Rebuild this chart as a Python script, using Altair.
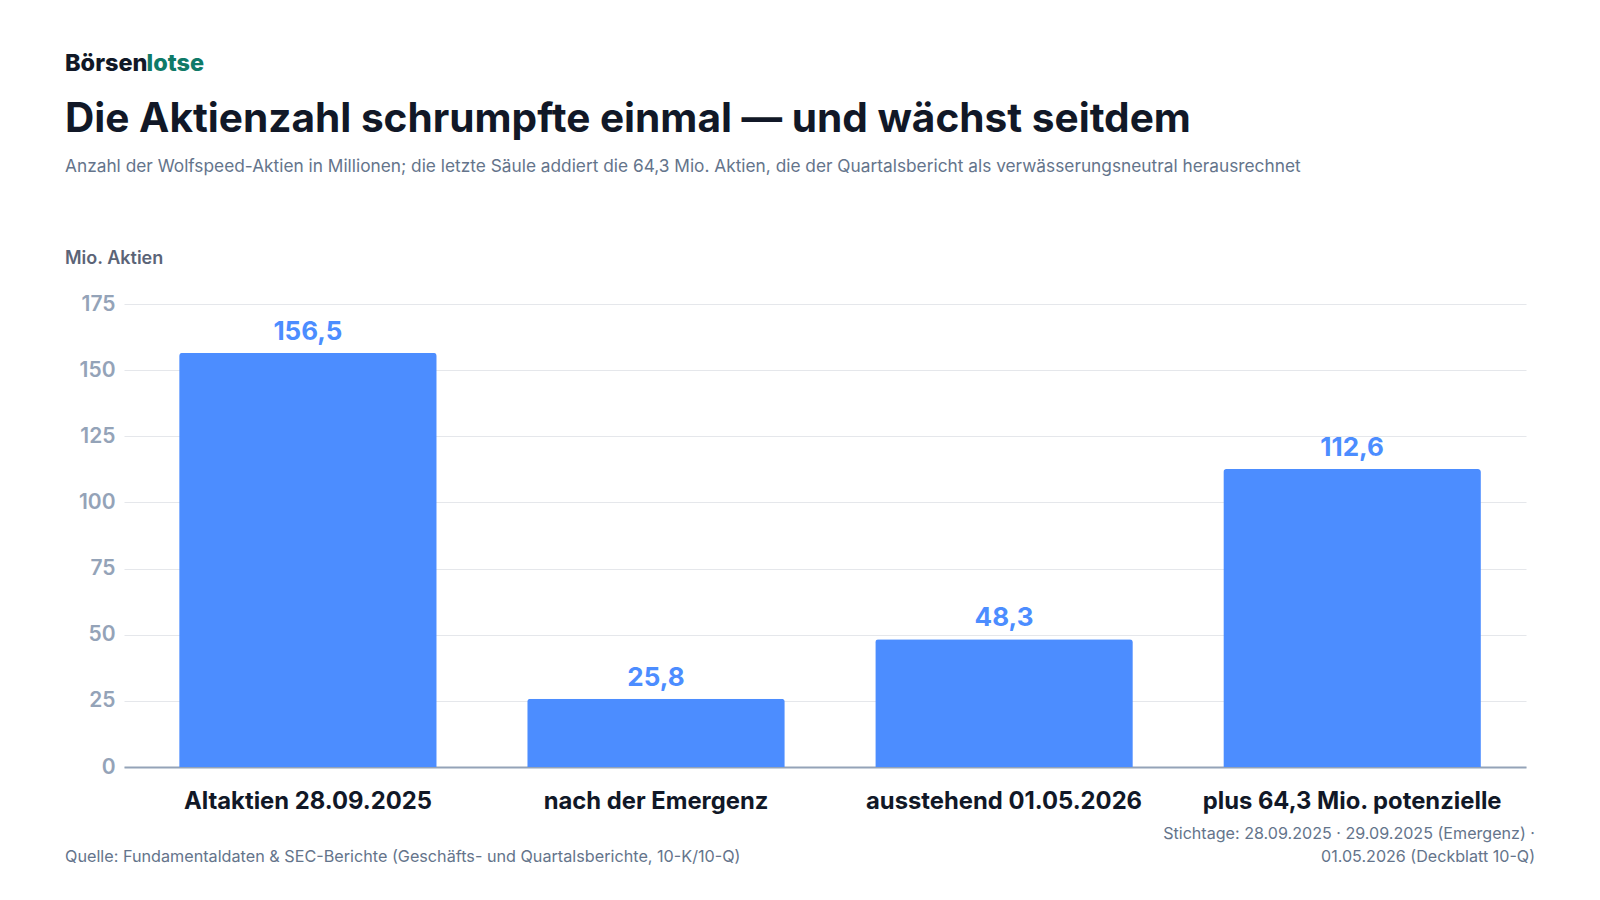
import altair as alt
import pandas as pd

categories = ["Altaktien 28.09.2025", "nach der Emergenz", "ausstehend 01.05.2026", "plus 64,3 Mio. potenzielle"]
values = [156.5, 25.8, 48.3, 112.6]
value_labels = ["156,5", "25,8", "48,3", "112,6"]
y_ticks = [0, 25, 50, 75, 100, 125, 150, 175]

logo_dark = "Börsen"
logo_green = "lotse"
title_text = "Die Aktienzahl schrumpfte einmal — und wächst seitdem"
subtitle_text = ("Anzahl der Wolfspeed-Aktien in Millionen; die letzte Säule addiert die 64,3 Mio. Aktien, "
                 "die der Quartalsbericht als verwässerungsneutral herausrechnet")
y_title = "Mio. Aktien"
source_text = "Quelle: Fundamentaldaten & SEC-Berichte (Geschäfts- und Quartalsberichte, 10-K/10-Q)"
note_line1 = "Stichtage: 28.09.2025 · 29.09.2025 (Emergenz) ·"
note_line2 = "01.05.2026 (Deckblatt 10-Q)"

FONT = "Inter"
W, H = 1402, 463

df = pd.DataFrame({"cat": categories, "val": values, "lab": value_labels})

x_enc = alt.X("cat:N", sort=categories, title=None,
              scale=alt.Scale(paddingInner=0.26, paddingOuter=0.144, align=0.55),
              axis=alt.Axis(labelAngle=0, labelFont=FONT, labelFontSize=23.8, labelFontWeight=700,
                            labelColor="#111827", labelBaseline="alphabetic", labelPadding=41,
                            ticks=False, domain=True, domainColor="#94a3b8", domainWidth=2,
                            grid=False, labelLimit=400))
y_enc = alt.Y("val:Q", title=None,
              scale=alt.Scale(domain=[0, 175], nice=False),
              axis=alt.Axis(values=y_ticks, labelFont=FONT, labelFontSize=21, labelFontWeight=600,
                            labelColor="#94a3b8", labelPadding=9, ticks=False, domain=False,
                            grid=True, gridColor="#e5e7eb", gridWidth=1))

bars = alt.Chart(df).mark_bar(color="#4c8dff", cornerRadiusTopLeft=3, cornerRadiusTopRight=3).encode(
    x=x_enc, y=y_enc)

vlabels = alt.Chart(df).mark_text(font=FONT, fontSize=26, fontWeight=700, color="#4c8dff",
                                  baseline="alphabetic", dy=-13).encode(
    x=alt.X("cat:N", sort=categories), y="val:Q", text="lab:N")


def annot(text, x, y, size, weight, color, align="left"):
    return alt.Chart(alt.Data(values=[{}])).mark_text(
        font=FONT, fontSize=size, fontWeight=weight, color=color, align=align, baseline="alphabetic"
    ).encode(x=alt.value(x), y=alt.value(y), text=alt.value(text))


layers = [
    bars,
    vlabels,
    annot(logo_dark, -59, -233, 23.5, 800, "#111827"),
    annot(logo_green, 22.5, -233, 23.5, 800, "#0f7a68"),
    annot(title_text, -59, -172, 40.6, 700, "#111827"),
    annot(subtitle_text, -59, -132, 17.3, 400, "#64748b"),
    annot(y_title, -59, -40, 18, 600, "#5b6477"),
    annot(source_text, -59, 558, 16.2, 400, "#64748b"),
    annot(note_line1, 1411, 535, 16.1, 400, "#64748b", align="right"),
    annot(note_line2, 1411, 558, 16.1, 400, "#64748b", align="right"),
]

chart = alt.layer(*layers).properties(
    width=W, height=H,
    background="white",
    autosize=alt.AutoSizeParams(type="none"),
    padding={"left": 116, "top": 296, "right": 66, "bottom": 110},
).configure_view(strokeWidth=0, stroke="transparent")

chart.save("out.html", embed_options={"renderer": "svg", "actions": False})
